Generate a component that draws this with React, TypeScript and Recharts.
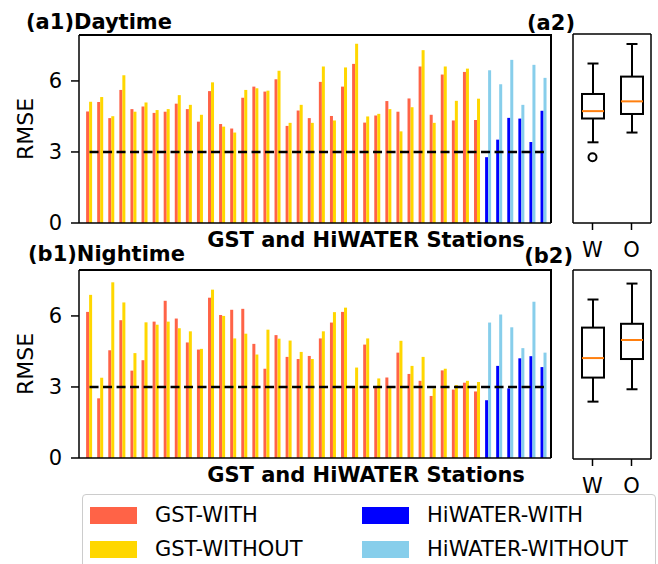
import React from 'react';
import { Bar, XAxis, YAxis, ReferenceLine, ComposedChart, Scatter } from 'recharts';

// station ids (no tick labels are shown on the x axis)
const gstStations = Array.from({ length: 36 }, (_, i) => `GST${i + 1}`);
const hiwaterStations = Array.from({ length: 6 }, (_, i) => `HW${i + 1}`);

// RMSE, daytime
const dayGstWith = [4.71, 5.11, 4.43, 5.62, 4.81, 4.92, 4.65, 4.7, 5.04, 4.81, 4.28, 5.57, 4.18, 3.99, 5.29, 5.76, 5.55, 6.07, 4.1, 4.75, 4.43, 5.96, 4.52, 5.76, 6.72, 4.24, 4.54, 5.15, 4.7, 5.26, 6.61, 4.57, 6.27, 4.33, 6.38, 4.35];
const dayGstWithout = [5.12, 5.32, 4.51, 6.24, 4.7, 5.09, 4.77, 4.81, 5.4, 4.99, 4.57, 5.94, 4.07, 3.82, 5.62, 5.69, 5.59, 6.43, 4.23, 4.99, 4.23, 6.61, 4.33, 6.57, 7.57, 4.5, 4.61, 4.81, 3.87, 4.89, 7.3, 4.23, 6.61, 5.16, 6.52, 5.25];
const dayHiWith = [2.78, 3.52, 4.44, 4.41, 3.42, 4.74];
const dayHiWithout = [6.45, 5.86, 6.89, 4.99, 6.68, 6.13];

// RMSE, nighttime
const nightGstWith = [6.17, 2.52, 4.55, 5.82, 3.69, 4.13, 5.76, 6.64, 5.89, 4.88, 4.58, 6.77, 6.04, 6.26, 6.3, 4.82, 3.77, 5.19, 4.27, 4.18, 4.31, 5.05, 5.72, 6.17, 2.98, 4.79, 2.98, 3.4, 4.45, 3.55, 3.26, 2.62, 3.7, 2.89, 3.18, 2.81];
const nightGstWithout = [6.89, 3.39, 7.42, 6.57, 4.43, 5.73, 5.63, 5.76, 5.48, 5.35, 4.61, 7.11, 6.0, 5.05, 5.25, 4.37, 5.42, 5.04, 4.96, 4.48, 4.18, 5.35, 6.16, 6.35, 3.82, 5.05, 3.36, 2.98, 4.95, 3.89, 4.27, 2.94, 3.77, 3.08, 3.26, 3.21];
const nightHiWith = [2.44, 3.89, 2.94, 4.21, 4.3, 3.84];
const nightHiWithout = [5.72, 6.06, 5.52, 4.64, 6.6, 4.45];

// box plot summaries (W = with, O = without)
const boxGroups = ['W', 'O'];
const dayBoxMin = [3.39, 3.8];
const dayBoxQ1 = [4.39, 4.58];
const dayBoxMedian = [4.7, 5.11];
const dayBoxQ3 = [5.42, 6.15];
const dayBoxMax = [6.7, 7.52];
const dayOutliersW = [2.76];

const nightBoxMin = [2.41, 2.93];
const nightBoxQ1 = [3.42, 4.2];
const nightBoxMedian = [4.24, 5.0];
const nightBoxQ3 = [5.52, 5.68];
const nightBoxMax = [6.7, 7.37];
const nightOutliersW: number[] = [];

const yTicks = [0, 3, 6];
const THRESHOLD = 3;

const TOMATO = '#ff6347';
const GOLD = '#ffd700';
const BLUE = '#0000ff';
const SKYBLUE = '#87ceeb';
const FONT = '"DejaVu Sans", sans-serif';
const Y_DOMAIN: [number, number] = [0, 7.94];
const BAR_W = 3;
const frameLine = { stroke: '#000', strokeWidth: 1.5 };

function stationRows(gw: number[], gwo: number[], hw: number[], hwo: number[]) {
  return [
    ...gstStations.map((s, i) => ({ station: s, withVal: gw[i], withoutVal: gwo[i], net: 'GST' })),
    ...hiwaterStations.map((s, i) => ({ station: s, withVal: hw[i], withoutVal: hwo[i], net: 'HW' })),
  ];
}

function boxRows(mn: number[], q1: number[], med: number[], q3: number[], mx: number[]) {
  return boxGroups.map((g, i) => ({ group: g, box: [q1[i], q3[i]], min: mn[i], median: med[i], max: mx[i] }));
}

// "with" bar sits on the right of its slot, "without" on the left, so each pair touches
function WithBar(p: any) {
  const fill = p.payload.net === 'GST' ? TOMATO : BLUE;
  return <rect x={p.x + p.width - BAR_W} y={p.y} width={BAR_W} height={p.height} fill={fill} />;
}

function WithoutBar(p: any) {
  const fill = p.payload.net === 'GST' ? GOLD : SKYBLUE;
  return <rect x={p.x} y={p.y} width={BAR_W} height={p.height} fill={fill} />;
}

function StationChart({ rows, top }: { rows: any[]; top: number }) {
  const first = rows[0].station;
  const last = rows[rows.length - 1].station;
  return (
    <div style={{ position: 'absolute', left: 0, top, width: 560, height: 262 }}>
      <ComposedChart width={560} height={262} data={rows} margin={{ top: 34, right: 8, bottom: 0, left: 0 }} barGap={0}>
        <XAxis dataKey="station" height={39} tick={false} tickLine={false} axisLine={frameLine} padding={{ left: 5, right: 1.5 }} />
        <XAxis xAxisId="top" orientation="top" dataKey="station" height={1} tick={false} tickLine={false} axisLine={frameLine} />
        <YAxis
          domain={Y_DOMAIN}
          ticks={yTicks}
          width={79}
          tickSize={8}
          tickMargin={9}
          axisLine={frameLine}
          tickLine={frameLine}
          tick={{ fontSize: 21, fill: '#000', fontFamily: FONT }}
        />
        <YAxis yAxisId="right" orientation="right" width={1} tick={false} tickLine={false} axisLine={frameLine} />
        <Bar dataKey="withVal" shape={WithBar} isAnimationActive={false} />
        <Bar dataKey="withoutVal" shape={WithoutBar} isAnimationActive={false} />
        <ReferenceLine
          segment={[{ x: first, y: THRESHOLD }, { x: last, y: THRESHOLD }]}
          stroke="#000"
          strokeWidth={2.5}
          strokeDasharray="9 4.5"
        />
      </ComposedChart>
      {/* top and right edges of the frame */}
      <div style={{ position: 'absolute', left: 79, top: 34.25, width: 472.75, height: 1.5, background: '#000' }} />
      <div style={{ position: 'absolute', left: 550.25, top: 34.25, width: 1.5, height: 189, background: '#000' }} />
    </div>
  );
}

function BoxShape(props: any) {
  const { x, y, width, height, payload } = props;
  const [q1, q3] = payload.box;
  const top = Math.min(y, y + height);
  const h = Math.abs(height);
  const ppu = h / (q3 - q1);
  const yOf = (v: number) => top + (q3 - v) * ppu;
  const cx = x + width / 2;
  const cap = width / 4;
  return (
    <g stroke="#000" strokeWidth={2} fill="none">
      <line x1={cx} x2={cx} y1={yOf(payload.max)} y2={top} />
      <line x1={cx} x2={cx} y1={top + h} y2={yOf(payload.min)} />
      <line x1={cx - cap} x2={cx + cap} y1={yOf(payload.max)} y2={yOf(payload.max)} />
      <line x1={cx - cap} x2={cx + cap} y1={yOf(payload.min)} y2={yOf(payload.min)} />
      <rect x={x} y={top} width={width} height={h} />
      <line x1={x} x2={x + width} y1={yOf(payload.median)} y2={yOf(payload.median)} stroke="#ff7f0e" />
    </g>
  );
}

function OutlierShape(props: any) {
  const { cx, cy } = props;
  return <circle cx={cx} cy={cy} r={4} fill="#fff" stroke="#000" strokeWidth={2} />;
}

function BoxChart({ rows, outliers, top }: { rows: any[]; outliers: any[]; top: number }) {
  return (
    <div style={{ position: 'absolute', left: 560, top, width: 98, height: 272 }}>
      <ComposedChart width={98} height={272} data={rows} margin={{ top: 33, right: 6, bottom: 0, left: 12 }}>
        <XAxis
          dataKey="group"
          height={49}
          allowDuplicatedCategory={false}
          tickSize={7}
          tickMargin={12}
          axisLine={frameLine}
          tickLine={frameLine}
          tick={{ fontSize: 21, fill: '#000', fontFamily: FONT }}
        />
        <XAxis xAxisId="top" orientation="top" dataKey="group" height={1} tick={false} tickLine={false} axisLine={frameLine} />
        <YAxis domain={Y_DOMAIN} width={1} tick={false} tickLine={false} axisLine={frameLine} />
        <YAxis yAxisId="right" orientation="right" width={1} tick={false} tickLine={false} axisLine={frameLine} />
        <Bar dataKey="box" barSize={22} shape={BoxShape} isAnimationActive={false} />
        {outliers.length > 0 && (
          <Scatter data={outliers} dataKey="value" shape={OutlierShape} isAnimationActive={false} />
        )}
      </ComposedChart>
    </div>
  );
}

const legendItems = [
  { label: 'GST-WITH', color: TOMATO, left: 7, top: 12 },
  { label: 'GST-WITHOUT', color: GOLD, left: 7, top: 46 },
  { label: 'HiWATER-WITH', color: BLUE, left: 279, top: 12 },
  { label: 'HiWATER-WITHOUT', color: SKYBLUE, left: 279, top: 46 },
];

export default function App() {
  const dayRows = stationRows(dayGstWith, dayGstWithout, dayHiWith, dayHiWithout);
  const nightRows = stationRows(nightGstWith, nightGstWithout, nightHiWith, nightHiWithout);
  const dayBox = boxRows(dayBoxMin, dayBoxQ1, dayBoxMedian, dayBoxQ3, dayBoxMax);
  const nightBox = boxRows(nightBoxMin, nightBoxQ1, nightBoxMedian, nightBoxQ3, nightBoxMax);
  const dayOutliers = dayOutliersW.map((v) => ({ group: 'W', value: v }));
  const nightOutliers = nightOutliersW.map((v) => ({ group: 'W', value: v }));

  const bold = { fontFamily: FONT, fontWeight: 700, fill: '#000' } as const;

  return (
    <div style={{ position: 'absolute', left: 0, top: 0, width: 658, height: 564, overflow: 'hidden', background: '#fff', fontFamily: FONT }}>
      <StationChart rows={dayRows} top={0} />
      <StationChart rows={nightRows} top={235} />
      <BoxChart rows={dayBox} outliers={dayOutliers} top={0} />
      <BoxChart rows={nightBox} outliers={nightOutliers} top={236} />

      <svg width={658} height={564} style={{ position: 'absolute', left: 0, top: 0, pointerEvents: 'none' }}>
        <text x={26} y={29} fontSize={21} {...bold}>(a1)Daytime</text>
        <text x={575} y={30} fontSize={21} textAnchor="end" {...bold}>(a2)</text>
        <text x={28} y={261} fontSize={21} {...bold}>(b1)Nightime</text>
        <text x={573} y={263} fontSize={21} textAnchor="end" {...bold}>(b2)</text>
        <text x={366} y={247} fontSize={21} textAnchor="middle" {...bold}>GST and HiWATER Stations</text>
        <text x={366} y={482} fontSize={21} textAnchor="middle" {...bold}>GST and HiWATER Stations</text>
        <text transform="translate(25,129) rotate(-90)" fontSize={22} textAnchor="middle" dominantBaseline="central" fontFamily={FONT} fill="#000">RMSE</text>
        <text transform="translate(25,364) rotate(-90)" fontSize={22} textAnchor="middle" dominantBaseline="central" fontFamily={FONT} fill="#000">RMSE</text>
      </svg>

      <div
        style={{
          position: 'absolute',
          left: 82,
          top: 494,
          width: 574,
          height: 84,
          boxSizing: 'border-box',
          border: '1px solid #cccccc',
          borderRadius: 4,
          background: '#fff',
        }}
      >
        {legendItems.map((it) => (
          <div key={it.label} style={{ position: 'absolute', left: it.left, top: it.top, height: 17, display: 'flex', alignItems: 'center' }}>
            <div style={{ width: 47, height: 17, background: it.color }} />
            <span style={{ marginLeft: 18, fontSize: 21, lineHeight: '17px', color: '#000', whiteSpace: 'nowrap' }}>{it.label}</span>
          </div>
        ))}
      </div>
    </div>
  );
}
